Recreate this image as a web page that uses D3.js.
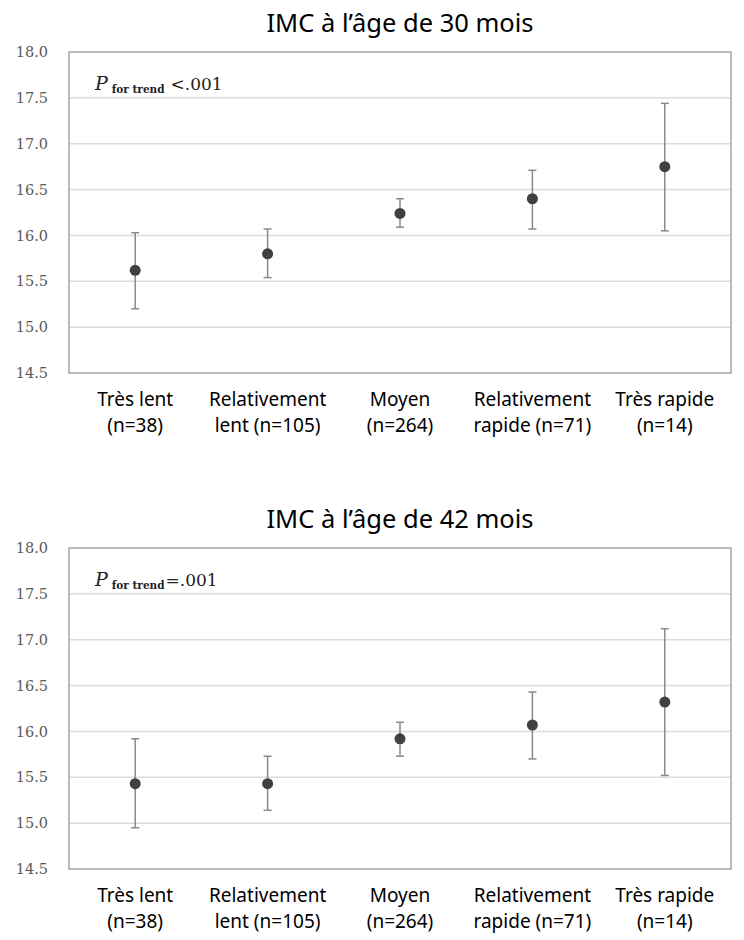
<!DOCTYPE html>
<html>
<head>
<meta charset="utf-8">
<script src="https://cdn.jsdelivr.net/npm/d3@7"></script>
<style>
  body { margin: 0; background: #fff; }
</style>
</head>
<body>
<div id="chart"></div>
<script>
let categories = ["Très lent", "Relativement lent", "Moyen", "Relativement rapide", "Très rapide"];
let labelLine1 = ["Très lent", "Relativement", "Moyen", "Relativement", "Très rapide"];
let labelLine2 = ["(n=38)", "lent (n=105)", "(n=264)", "rapide (n=71)", "(n=14)"];
let yTicks = [14.5, 15.0, 15.5, 16.0, 16.5, 17.0, 17.5, 18.0];

// 30 mois
let mean30 = [15.62, 15.80, 16.24, 16.40, 16.75];
let low30 = [15.20, 15.54, 16.09, 16.07, 16.05];
let high30 = [16.03, 16.07, 16.40, 16.71, 17.44];

// 42 mois
let mean42 = [15.43, 15.43, 15.92, 16.07, 16.32];
let low42 = [14.95, 15.14, 15.73, 15.70, 15.52];
let high42 = [15.92, 15.73, 16.10, 16.43, 17.12];

let width = 744;
let height = 940;
let serif = "'DejaVu Serif', 'Liberation Serif', serif";
let sans = "'Noto Sans', 'Open Sans', sans-serif";

let svg = d3.select("#chart").append("svg")
  .attr("width", width).attr("height", height);

function panel(top, title, pSign, means, lows, highs) {
  let left = 69, right = 731;
  let plotTop = top, plotBottom = top + 321;

  let x = d3.scalePoint().domain(categories).range([left, right]).padding(0.5);
  let y = d3.scaleLinear().domain([14.5, 18]).range([plotBottom, plotTop]);

  let g = svg.append("g");

  // gridlines
  g.selectAll("line.grid")
    .data(yTicks.slice(1, -1))
    .enter().append("line")
    .attr("x1", left).attr("x2", right)
    .attr("y1", d => y(d)).attr("y2", d => y(d))
    .attr("stroke", "#dcdcdc").attr("stroke-width", 1.5);

  // frame
  g.append("rect")
    .attr("x", left).attr("y", plotTop)
    .attr("width", right - left).attr("height", plotBottom - plotTop)
    .attr("fill", "none").attr("stroke", "#a6a6a6").attr("stroke-width", 1.5);

  // y labels
  g.selectAll("text.ytick")
    .data(yTicks)
    .enter().append("text")
    .attr("class", "ytick")
    .attr("font-family", serif).attr("font-size", "14.5px").attr("fill", "#595959")
    .attr("x", 48).attr("y", d => y(d))
    .attr("dy", "0.35em")
    .attr("text-anchor", "end")
    .text(d => d3.format(".1f")(d));

  // title
  g.append("text")
    .attr("font-family", sans).attr("font-size", "25.5px").attr("fill", "#000")
    .attr("x", (left + right) / 2).attr("y", top - 20)
    .attr("text-anchor", "middle")
    .text(title);

  // P for trend
  let p = g.append("text")
    .attr("x", 95).attr("y", top + 38)
    .attr("font-family", serif).attr("fill", "#222");
  p.append("tspan").attr("font-style", "italic").attr("font-size", "19px").text("P");
  p.append("tspan").attr("font-size", "10.5px").attr("dx", 4).attr("dy", 3)
    .attr("font-weight", "bold").text("for trend");
  p.append("tspan").attr("font-size", "17px").attr("dx", pSign === "<" ? 6 : 1).attr("dy", -3)
    .text(pSign + ".001");

  let rows = categories.map((c, i) => ({c: c, m: means[i], lo: lows[i], hi: highs[i]}));

  // error bars
  let eb = g.selectAll("g.eb").data(rows).enter().append("g")
    .attr("stroke", "#8a8a8a").attr("stroke-width", 1.5);
  eb.append("line")
    .attr("x1", d => x(d.c)).attr("x2", d => x(d.c))
    .attr("y1", d => y(d.lo)).attr("y2", d => y(d.hi));
  eb.append("line")
    .attr("x1", d => x(d.c) - 4).attr("x2", d => x(d.c) + 4)
    .attr("y1", d => y(d.lo)).attr("y2", d => y(d.lo));
  eb.append("line")
    .attr("x1", d => x(d.c) - 4).attr("x2", d => x(d.c) + 4)
    .attr("y1", d => y(d.hi)).attr("y2", d => y(d.hi));

  // points
  g.selectAll("circle").data(rows).enter().append("circle")
    .attr("cx", d => x(d.c)).attr("cy", d => y(d.m))
    .attr("r", 5.5).attr("fill", "#404040");

  // x labels, two lines each
  g.selectAll("text.xlab1").data(categories).enter().append("text")
    .attr("class", "xlab1")
    .attr("font-family", sans).attr("font-size", "19px").attr("fill", "#000")
    .attr("text-anchor", "middle")
    .attr("x", d => x(d)).attr("y", plotBottom + 33)
    .text((d, i) => labelLine1[i]);
  g.selectAll("text.xlab2").data(categories).enter().append("text")
    .attr("class", "xlab2")
    .attr("font-family", sans).attr("font-size", "19px").attr("fill", "#000")
    .attr("text-anchor", "middle")
    .attr("x", d => x(d)).attr("y", plotBottom + 59)
    .text((d, i) => labelLine2[i]);
}

panel(52, "IMC à l’âge de 30 mois", "<", mean30, low30, high30);
panel(548, "IMC à l’âge de 42 mois", "=", mean42, low42, high42);
</script>
</body>
</html>
